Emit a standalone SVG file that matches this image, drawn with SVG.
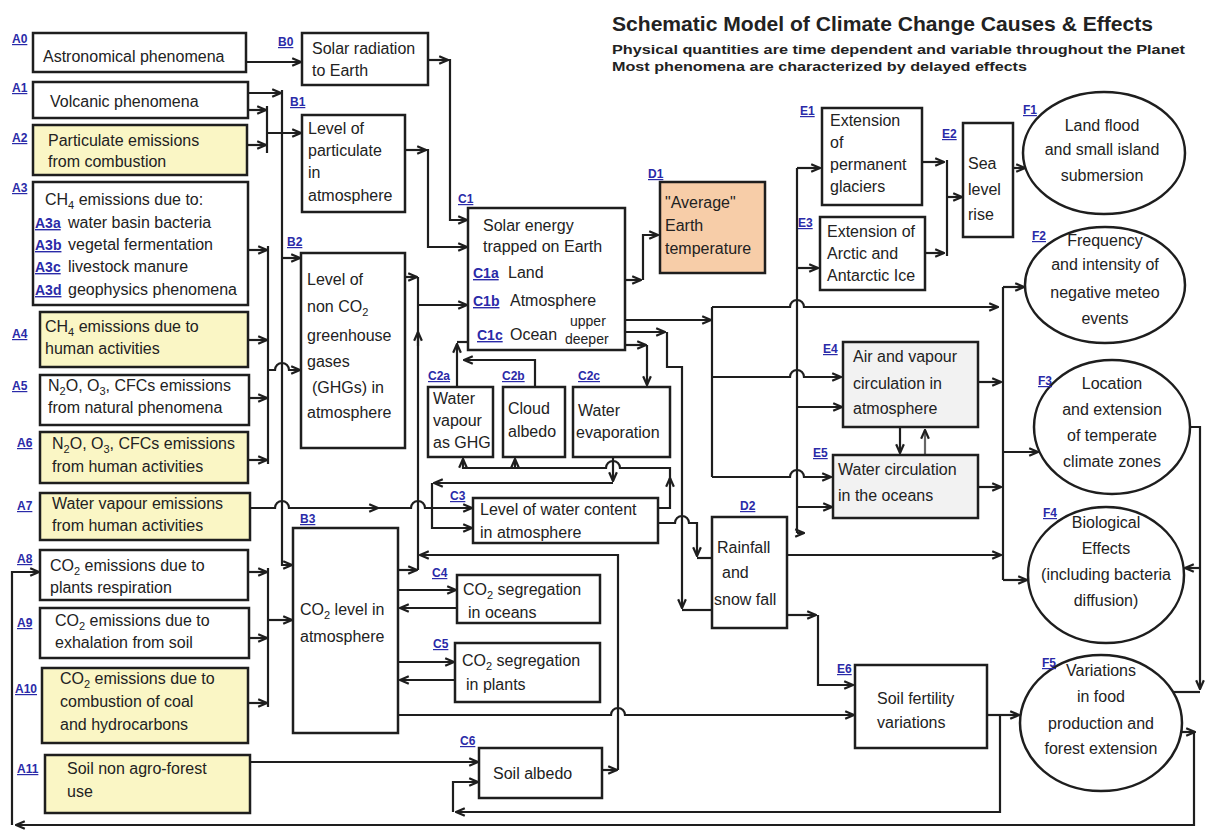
<svg xmlns="http://www.w3.org/2000/svg" width="1208" height="830" viewBox="0 0 1208 830">
<defs>
<style>
.box{fill:#fff;stroke:#1e1e1e;stroke-width:2.5}
.yel{fill:#faf6c5}
.peach{fill:#f7cda8}
.gray{fill:#f2f2f2}
.el{fill:#fff;stroke:#1e1e1e;stroke-width:2.5}
text{font-family:"Liberation Sans",Arial,sans-serif;font-size:16px;fill:#222}
.lbl{font-size:12px;font-weight:bold;fill:#2a2aa8;text-decoration:underline}
.sl{font-size:14px;font-weight:bold;fill:#2a2aa8;text-decoration:underline}
.m{text-anchor:middle}
.ttl{font-weight:bold;fill:#222}
#connectors path{fill:none;stroke:#1e1e1e;stroke-width:2.2}
</style>
<marker id="a" viewBox="0 0 10 10" refX="9" refY="5" markerWidth="11" markerHeight="11" markerUnits="userSpaceOnUse" orient="auto"><path d="M1,1.5 L9,5 L1,8.5" fill="none" stroke="#1e1e1e" stroke-width="2"/></marker>
</defs>
<rect width="1208" height="830" fill="#fff"/>

<g id="title">
<text class="ttl" x="612" y="31" font-size="20" textLength="541" lengthAdjust="spacingAndGlyphs" style="font-size:20px">Schematic Model of Climate Change Causes &amp; Effects</text>
<text class="ttl" x="612" y="54" textLength="573" lengthAdjust="spacingAndGlyphs" style="font-size:13px">Physical quantities are time dependent and variable throughout the Planet</text>
<text class="ttl" x="612" y="71" textLength="415" lengthAdjust="spacingAndGlyphs" style="font-size:13px">Most phenomena are characterized by delayed effects</text>
</g>

<g id="connectors">
<path d="M246,62 H301" marker-end="url(#a)"/>
<path d="M428,60 H448" marker-end="url(#a)"/>
<path d="M448,60 H450 V220 H467" marker-end="url(#a)"/>
<path d="M405,150 H426" marker-end="url(#a)"/>
<path d="M426,150 H428 V247 H467" marker-end="url(#a)"/>
<path d="M248,93 H281" marker-end="url(#a)"/>
<path d="M282,90 V565 H292" marker-end="url(#a)"/>
<path d="M282,258 H300" marker-end="url(#a)"/>
<path d="M248,110 H266" marker-end="url(#a)"/>
<path d="M247,145 H266" marker-end="url(#a)"/>
<path d="M267,106 V153"/>
<path d="M267,133 H301" marker-end="url(#a)"/>
<path d="M248,250 H267" marker-end="url(#a)"/>
<path d="M248,340 H267" marker-end="url(#a)"/>
<path d="M249,398 H267" marker-end="url(#a)"/>
<path d="M248,460 H267" marker-end="url(#a)"/>
<path d="M268,246 V464"/>
<path d="M268,370 H275 a7,7 0 0 1 14,0 H300" marker-end="url(#a)"/>
<path d="M405,277 H417" marker-end="url(#a)"/>
<path d="M418,277 V570"/>
<path d="M418,305 H467" marker-end="url(#a)"/>
<path d="M418,346 V332" marker-end="url(#a)"/>
<path d="M250,508 H275 a7,7 0 0 1 14,0 H378" marker-end="url(#a)"/>
<path d="M376,508 H411 a7,7 0 0 1 14,0 H472" marker-end="url(#a)"/>
<path d="M398,570 H417" marker-end="url(#a)"/>
<path d="M602,770 H617" marker-end="url(#a)"/>
<path d="M618,770 V555 H420" marker-end="url(#a)"/>
<path d="M398,590 H456" marker-end="url(#a)"/>
<path d="M457,608 H400" marker-end="url(#a)"/>
<path d="M398,662 H454" marker-end="url(#a)"/>
<path d="M455,680 H400" marker-end="url(#a)"/>
<path d="M398,715 H611 a7,7 0 0 1 14,0 H854" marker-end="url(#a)"/>
<path d="M248,572 H267" marker-end="url(#a)"/>
<path d="M249,638 H267" marker-end="url(#a)"/>
<path d="M248,703 H267" marker-end="url(#a)"/>
<path d="M268,568 V707"/>
<path d="M268,620 H292" marker-end="url(#a)"/>
<path d="M250,762 H478" marker-end="url(#a)"/>
<path d="M1000,715 V812 H456" marker-end="url(#a)"/>
<path d="M453,812 V782 H478" marker-end="url(#a)"/>
<path d="M1174,732 H1195" marker-end="url(#a)"/>
<path d="M1194,732 V825 H16" marker-end="url(#a)"/>
<path d="M12,825 V572 H39" marker-end="url(#a)"/>
<path d="M457,387 V344" marker-end="url(#a)"/>
<path d="M457,342 H468"/>
<path d="M535,387 V360 H464" marker-end="url(#a)"/>
<path d="M625,345 H646" marker-end="url(#a)"/>
<path d="M647,345 V385" marker-end="url(#a)"/>
<path d="M625,332 H665" marker-end="url(#a)"/>
<path d="M667,332 V367 H682 V608" marker-end="url(#a)"/>
<path d="M682,610 H711"/>
<path d="M658,523 H675 a7,7 0 0 1 14,0 H697 V556" marker-end="url(#a)"/>
<path d="M697,558 H711"/>
<path d="M658,508 H670 V478" marker-end="url(#a)"/>
<path d="M670,480 V468 H620 a7,7 0 0 0 -14,0 H463 V459" marker-end="url(#a)"/>
<path d="M515,468 V459" marker-end="url(#a)"/>
<path d="M613,457 V481" marker-end="url(#a)"/>
<path d="M613,483 H434" marker-end="url(#a)"/>
<path d="M432,483 V528 H472" marker-end="url(#a)"/>
<path d="M625,320 H711" marker-end="url(#a)"/>
<path d="M712,307 V477"/>
<path d="M712,307 H790 a7,7 0 0 1 14,0 H998" marker-end="url(#a)"/>
<path d="M712,377 H790 a7,7 0 0 1 14,0 H841" marker-end="url(#a)"/>
<path d="M712,477 H790 a7,7 0 0 1 14,0 H831" marker-end="url(#a)"/>
<path d="M625,280 H641" marker-end="url(#a)"/>
<path d="M643,280 V235 H658" marker-end="url(#a)"/>
<path d="M797,168 V533"/>
<path d="M797,533 H804" marker-end="url(#a)"/>
<path d="M797,168 H820" marker-end="url(#a)"/>
<path d="M797,268 H818" marker-end="url(#a)"/>
<path d="M797,407 H842" marker-end="url(#a)"/>
<path d="M797,507 H832" marker-end="url(#a)"/>
<path d="M922,162 H944" marker-end="url(#a)"/>
<path d="M925,253 H944" marker-end="url(#a)"/>
<path d="M947,160 V256"/>
<path d="M947,197 H962" marker-end="url(#a)"/>
<path d="M1013,168 H1025" marker-end="url(#a)"/>
<path d="M1003,287 V580"/>
<path d="M1003,287 H1024" marker-end="url(#a)"/>
<path d="M978,382 H1001" marker-end="url(#a)"/>
<path d="M978,487 H1001" marker-end="url(#a)"/>
<path d="M1003,452 H1038" marker-end="url(#a)"/>
<path d="M787,555 H1001" marker-end="url(#a)"/>
<path d="M1003,580 H1027" marker-end="url(#a)"/>
<path d="M900,428 V453" marker-end="url(#a)"/>
<path d="M925,455 V430" marker-end="url(#a)" style="stroke:#666"/>
<path d="M787,615 H816" marker-end="url(#a)"/>
<path d="M818,615 V685 H853" marker-end="url(#a)"/>
<path d="M987,715 H1019" marker-end="url(#a)"/>
<path d="M1190,427 H1200 V689" marker-end="url(#a)"/>
<path d="M1200,692 H1172"/>
<path d="M1200,568 H1185" marker-end="url(#a)"/>
</g>

<g id="A0"><rect class="box" x="33" y="33" width="213" height="39"/><text class="lbl" x="12" y="43">A0</text><text x="43" y="62">Astronomical phenomena</text></g>
<g id="A1"><rect class="box" x="33" y="82" width="215" height="36"/><text class="lbl" x="12" y="92">A1</text><text x="50" y="107">Volcanic phenomena</text></g>
<g id="A2"><rect class="box yel" x="33" y="125" width="214" height="50"/><text class="lbl" x="12" y="142">A2</text><text x="48" y="146">Particulate emissions</text><text x="48" y="167">from combustion</text></g>
<g id="A3"><rect class="box" x="33" y="182" width="215" height="123"/><text class="lbl" x="12" y="192">A3</text>
<text x="45" y="205">CH<tspan font-size="11" dy="4">4</tspan><tspan dy="-4"> emissions due to:</tspan></text>
<text class="sl" x="35" y="228">A3a</text><text x="68" y="228">water basin bacteria</text>
<text class="sl" x="35" y="250">A3b</text><text x="68" y="250">vegetal fermentation</text>
<text class="sl" x="35" y="272">A3c</text><text x="68" y="272">livestock manure</text>
<text class="sl" x="35" y="295">A3d</text><text x="68" y="295">geophysics phenomena</text></g>
<g id="A4"><rect class="box yel" x="40" y="312" width="208" height="55"/><text class="lbl" x="12" y="338">A4</text><text x="45" y="332">CH<tspan font-size="11" dy="4">4</tspan><tspan dy="-4"> emissions due to</tspan></text><text x="45" y="354">human activities</text></g>
<g id="A5"><rect class="box" x="40" y="375" width="209" height="50"/><text class="lbl" x="12" y="390">A5</text><text x="48" y="391">N<tspan font-size="11" dy="4">2</tspan><tspan dy="-4">O, O</tspan><tspan font-size="11" dy="4">3</tspan><tspan dy="-4">, CFCs emissions</tspan></text><text x="48" y="413">from natural phenomena</text></g>
<g id="A6"><rect class="box yel" x="40" y="432" width="208" height="51"/><text class="lbl" x="17" y="447">A6</text><text x="52" y="449">N<tspan font-size="11" dy="4">2</tspan><tspan dy="-4">O, O</tspan><tspan font-size="11" dy="4">3</tspan><tspan dy="-4">, CFCs emissions</tspan></text><text x="52" y="472">from  human activities</text></g>
<g id="A7"><rect class="box yel" x="40" y="493" width="210" height="47"/><text class="lbl" x="17" y="510">A7</text><text x="52" y="509">Water vapour emissions</text><text x="52" y="531">from human activities</text></g>
<g id="A8"><rect class="box" x="40" y="550" width="208" height="50"/><text class="lbl" x="17" y="563">A8</text><text x="50" y="571">CO<tspan font-size="11" dy="4">2</tspan><tspan dy="-4"> emissions due to</tspan></text><text x="50" y="593">plants respiration</text></g>
<g id="A9"><rect class="box" x="40" y="608" width="209" height="50"/><text class="lbl" x="17" y="627">A9</text><text x="55" y="626">CO<tspan font-size="11" dy="4">2</tspan><tspan dy="-4"> emissions due to</tspan></text><text x="55" y="648">exhalation  from  soil</text></g>
<g id="A10"><rect class="box yel" x="42" y="668" width="206" height="75"/><text class="lbl" x="15" y="693">A10</text><text x="60" y="684">CO<tspan font-size="11" dy="4">2</tspan><tspan dy="-4"> emissions due to</tspan></text><text x="60" y="707">combustion of coal</text><text x="60" y="730">and hydrocarbons</text></g>
<g id="A11"><rect class="box yel" x="45" y="755" width="205" height="58"/><text class="lbl" x="17" y="773">A11</text><text x="67" y="774">Soil non agro-forest</text><text x="67" y="797">use</text></g>

<g id="B0"><rect class="box" x="302" y="33" width="126" height="52"/><text class="lbl" x="278" y="46">B0</text><text x="312" y="54">Solar radiation</text><text x="312" y="76">to Earth</text></g>
<g id="B1"><rect class="box" x="302" y="115" width="103" height="97"/><text class="lbl" x="290" y="106">B1</text><text x="308" y="134">Level of</text><text x="308" y="156">particulate</text><text x="308" y="178">in</text><text x="308" y="201">atmosphere</text></g>
<g id="B2"><rect class="box" x="301" y="253" width="104" height="195"/><text class="lbl" x="287" y="246">B2</text><text x="307" y="285">Level of</text><text x="307" y="312">non CO<tspan font-size="11" dy="4">2</tspan></text><text x="307" y="341">greenhouse</text><text x="307" y="367">gases</text><text x="312" y="393">(GHGs) in</text><text x="307" y="418">atmosphere</text></g>
<g id="B3"><rect class="box" x="293" y="528" width="105" height="205"/><text class="lbl" x="300" y="523">B3</text><text x="300" y="615">CO<tspan font-size="11" dy="4">2</tspan><tspan dy="-4"> level in</tspan></text><text x="300" y="642">atmosphere</text></g>

<g id="C1"><rect class="box" x="468" y="208" width="157" height="142"/><text class="lbl" x="458" y="203">C1</text><text x="483" y="231">Solar energy</text><text x="483" y="252">trapped on Earth</text>
<text class="sl" x="473" y="278">C1a</text><text x="508" y="278">Land</text>
<text class="sl" x="473" y="306">C1b</text><text x="510" y="306">Atmosphere</text>
<text class="sl" x="477" y="340">C1c</text><text x="510" y="340">Ocean</text>
<text x="570" y="326" style="font-size:14px">upper</text><text x="565" y="344" style="font-size:14px">deeper</text></g>
<g id="C2a"><rect class="box" x="428" y="387" width="65" height="70"/><text class="lbl" x="428" y="380">C2a</text><text x="433" y="404">Water</text><text x="433" y="426">vapour</text><text x="433" y="448">as GHG</text></g>
<g id="C2b"><rect class="box" x="503" y="387" width="62" height="70"/><text class="lbl" x="502" y="380">C2b</text><text x="508" y="414">Cloud</text><text x="508" y="437">albedo</text></g>
<g id="C2c"><rect class="box" x="573" y="387" width="97" height="70"/><text class="lbl" x="578" y="380">C2c</text><text x="578" y="416">Water</text><text x="576" y="438">evaporation</text></g>
<g id="C3"><rect class="box" x="473" y="498" width="185" height="45"/><text class="lbl" x="450" y="500">C3</text><text x="480" y="515">Level of  water content</text><text x="480" y="538">in atmosphere</text></g>
<g id="C4"><rect class="box" x="457" y="575" width="143" height="48"/><text class="lbl" x="432" y="577">C4</text><text x="463" y="595">CO<tspan font-size="11" dy="4">2</tspan><tspan dy="-4"> segregation</tspan></text><text x="468" y="618">in oceans</text></g>
<g id="C5"><rect class="box" x="455" y="643" width="145" height="59"/><text class="lbl" x="433" y="648">C5</text><text x="462" y="666">CO<tspan font-size="11" dy="4">2</tspan><tspan dy="-4"> segregation</tspan></text><text x="466" y="690">in plants</text></g>
<g id="C6"><rect class="box" x="479" y="748" width="123" height="50"/><text class="lbl" x="460" y="745">C6</text><text x="493" y="779">Soil albedo</text></g>

<g id="D1"><rect class="box peach" x="660" y="182" width="105" height="91"/><text class="lbl" x="648" y="178">D1</text><text x="665" y="208">"Average"</text><text x="665" y="231">Earth</text><text x="665" y="254">temperature</text></g>
<g id="D2"><rect class="box" x="712" y="517" width="75" height="111"/><text class="lbl" x="740" y="510">D2</text><text x="717" y="553">Rainfall</text><text x="722" y="578">and</text><text x="714" y="605">snow fall</text></g>

<g id="E1"><rect class="box" x="822" y="108" width="100" height="97"/><text class="lbl" x="800" y="115">E1</text><text x="830" y="126">Extension</text><text x="830" y="148">of</text><text x="830" y="170">permanent</text><text x="830" y="192">glaciers</text></g>
<g id="E2"><rect class="box" x="963" y="123" width="50" height="114"/><text class="lbl" x="942" y="138">E2</text><text x="968" y="169">Sea</text><text x="968" y="195">level</text><text x="968" y="220">rise</text></g>
<g id="E3"><rect class="box" x="820" y="217" width="105" height="73"/><text class="lbl" x="798" y="227">E3</text><text x="827" y="237">Extension of</text><text x="827" y="259">Arctic and</text><text x="827" y="281">Antarctic Ice</text></g>
<g id="E4"><rect class="box gray" x="843" y="342" width="135" height="85"/><text class="lbl" x="823" y="353">E4</text><text x="853" y="362">Air and vapour</text><text x="853" y="389">circulation in</text><text x="853" y="414">atmosphere</text></g>
<g id="E5"><rect class="box gray" x="833" y="455" width="145" height="63"/><text class="lbl" x="813" y="457">E5</text><text x="838" y="475">Water circulation</text><text x="838" y="501">in the oceans</text></g>
<g id="E6"><rect class="box" x="855" y="665" width="132" height="83"/><text class="lbl" x="837" y="673">E6</text><text x="877" y="704">Soil fertility</text><text x="877" y="728">variations</text></g>

<g id="F1"><ellipse class="el" cx="1104" cy="153" rx="81" ry="61"/><text class="lbl" x="1023" y="114">F1</text><text class="m" x="1102" y="131">Land flood</text><text class="m" x="1102" y="155">and small island</text><text class="m" x="1102" y="181">submersion</text></g>
<g id="F2"><ellipse class="el" cx="1105" cy="285" rx="80" ry="58"/><text class="lbl" x="1032" y="240">F2</text><text class="m" x="1105" y="246">Frequency</text><text class="m" x="1105" y="270">and intensity of</text><text class="m" x="1105" y="298">negative meteo</text><text class="m" x="1105" y="324">events</text></g>
<g id="F3"><ellipse class="el" cx="1112" cy="427" rx="78" ry="67"/><text class="lbl" x="1038" y="385">F3</text><text class="m" x="1112" y="389">Location</text><text class="m" x="1112" y="415">and extension</text><text class="m" x="1112" y="441">of temperate</text><text class="m" x="1112" y="467">climate zones</text></g>
<g id="F4"><ellipse class="el" cx="1106" cy="575" rx="78" ry="68"/><text class="lbl" x="1043" y="517">F4</text><text class="m" x="1106" y="528">Biological</text><text class="m" x="1106" y="554">Effects</text><text class="m" x="1106" y="580">(including bacteria</text><text class="m" x="1106" y="606">diffusion)</text></g>
<g id="F5"><ellipse class="el" cx="1101" cy="723" rx="81" ry="68"/><text class="lbl" x="1042" y="667">F5</text><text class="m" x="1101" y="676">Variations</text><text class="m" x="1101" y="702">in food</text><text class="m" x="1101" y="729">production and</text><text class="m" x="1101" y="754">forest extension</text></g>
</svg>
